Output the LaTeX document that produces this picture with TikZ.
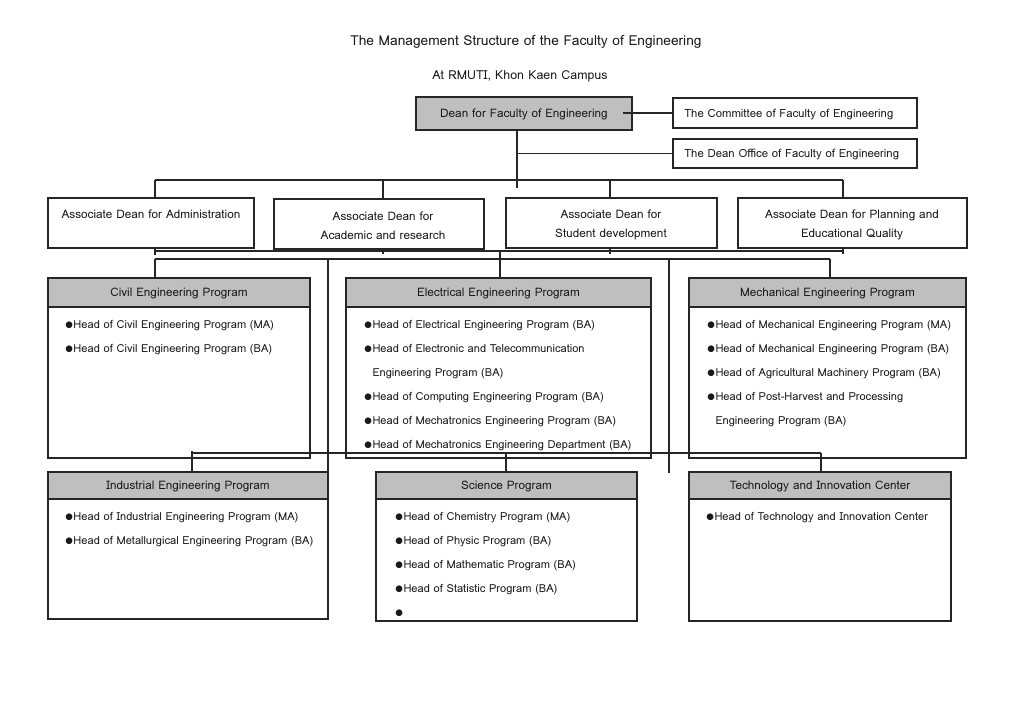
\documentclass[tikz,border=0pt]{standalone}
\usepackage{fontspec}
\setmainfont{Loma}
\newfontfamily\bulfont{DejaVu Sans}
\usetikzlibrary{fit}
\newcommand{\bulmark}{\raisebox{0.25ex}{\bulfont\fontsize{6.5}{6.5}\selectfont ●}\hspace{0.5pt}}
\tikzset{
  ln/.style={line width=0.85pt, draw=black!85},
  box/.style={draw=black!85, line width=0.95pt, inner sep=0pt, rectangle},
  gbox/.style={box, fill=black!25},
  txt/.style={inner sep=0pt, yshift=-1.1pt, font=\fontsize{8.8}{14.25}\selectfont, text=black!90},
  item/.style={inner sep=0pt, yshift=-1.3pt, font=\fontsize{8.3}{18}\selectfont, text=black!90, anchor=west, align=left},
  ttl/.style={inner sep=0pt, yshift=-1.3pt, text=black!90},
}
\begin{document}
\begin{tikzpicture}[x=0.75pt,y=-0.75pt]
\fill[white] (0,0) rectangle (1024,724);
\useasboundingbox (0,0) rectangle (1024,724);

% titles
\node[ttl, font=\fontsize{10.3}{12}\selectfont] (title) at (526,40) {The Management Structure of the Faculty of Engineering};
\node[ttl, font=\fontsize{9.3}{12}\selectfont] (subtitle) at (520,75) {At RMUTI, Khon Kaen Campus};

% top level
\node[gbox, fit={(416,97)(632,130)}] (dean) {};
\node[txt] (deant) at (524,113) {Dean for Faculty of Engineering};
\node[box, fit={(673,98)(917,128)}] (comm) {};
\node[txt, anchor=west, font=\fontsize{8.5}{12}\selectfont] (commt) at (684,113) {The Committee of Faculty of Engineering};
\node[box, fit={(673,139)(917,168)}] (office) {};
\node[txt, anchor=west, font=\fontsize{8.5}{12}\selectfont] (officet) at (684,153.5) {The Dean Office of Faculty of Engineering};

\coordinate (c1) at (623,113);
\coordinate (v0) at (517,188);
\draw[ln] (c1) -- (comm.west |- c1);
\draw[ln] (dean.south -| v0) -- (v0);
\draw[ln] (office.west) -- (office.west -| v0);

% associate deans
\node[box, fit={(48,198)(254,248)}] (ad1) {};
\node[txt] (ad1t) at (151,213) {Associate Dean for Administration};
\node[box, fit={(274,199)(484,249)}] (ad2) {};
\node[txt, align=center] (ad2t) at (383,224) {Associate Dean for\\Academic and research};
\node[box, fit={(506,198)(717,248)}] (ad3) {};
\node[txt, align=center] (ad3t) at (611,223.5) {Associate Dean for\\Student development};
\node[box, fit={(738,198)(967,248)}] (ad4) {};
\node[txt, align=center] (ad4t) at (852,223.5) {Associate Dean for Planning and\\Educational Quality};

\coordinate (b1) at (155,180);
\coordinate (b2) at (383,180);
\coordinate (b3) at (610,180);
\coordinate (b4) at (843,180);
\draw[ln] (b1) -- (b4);
\draw[ln] (b1) -- (b1 |- ad1.north);
\draw[ln] (b2) -- (b2 |- ad2.north);
\draw[ln] (b3) -- (b3 |- ad3.north);
\draw[ln] (b4) -- (b4 |- ad4.north);

% lower buses
\coordinate (l1) at (155,251);
\coordinate (l4) at (843,251);
\coordinate (t1) at (155,255);
\coordinate (t2) at (383,254);
\coordinate (t3) at (610,254);
\coordinate (t4) at (843,254);
\draw[ln] (l1) -- (l4);
\draw[ln] (ad1.south -| t1) -- (t1);
\draw[ln] (ad2.south -| t2) -- (t2);
\draw[ln] (ad3.south -| t3) -- (t3);
\draw[ln] (ad4.south -| t4) -- (t4);

\coordinate (m1) at (155,259);
\coordinate (m2) at (830,259);
\coordinate (e0) at (500,251);
\coordinate (k1) at (328,259);
\coordinate (k2) at (669,259);

% programs row 1
\node[box, fit={(48,278)(310,458)}] (civil) {};
\node[gbox, fit={(48,278)(310,307)}] (civilh) {};
\node[txt] (civilt) at (civilh.center) {Civil Engineering Program};
\node[box, fit={(346,278)(651,458)}] (elec) {};
\node[gbox, fit={(346,278)(651,307)}] (elech) {};
\node[txt] (elect) at (elech.center) {Electrical Engineering Program};
\node[box, fit={(689,278)(966,458)}] (mech) {};
\node[gbox, fit={(689,278)(966,307)}] (mechh) {};
\node[txt] (mecht) at (mechh.center) {Mechanical Engineering Program};

\draw[ln] (m1) -- (m2);
\draw[ln] (m1) -- (m1 |- civil.north);
\draw[ln] (m2) -- (m2 |- mech.north);
\draw[ln] (e0) -- (e0 |- elec.north);

% programs row 2
\node[box, fit={(48,472)(328,619)}] (ind) {};
\node[gbox, fit={(48,472)(328,499)}] (indh) {};
\node[txt] (indt) at (indh.center) {Industrial Engineering Program};
\node[box, fit={(376,472)(637,621)}] (sci) {};
\node[gbox, fit={(376,472)(637,499)}] (scih) {};
\node[txt] (scit) at (scih.center) {Science Program};
\node[box, fit={(689,472)(951,621)}] (tech) {};
\node[gbox, fit={(689,472)(951,499)}] (techh) {};
\node[txt] (techt) at (techh.center) {Technology and Innovation Center};

\draw[ln] (k1) -- (k1 |- ind.north);
\draw[ln] (k2) -- (669,473);

\coordinate (r1) at (192,451);
\coordinate (r2) at (506,453);
\coordinate (r3) at (821,453);
\draw[ln] (192,453) -- (r3);
\draw[ln] (r1) -- (r1 |- ind.north);
\draw[ln] (r2) -- (r2 |- sci.north);
\draw[ln] (r3) -- (r3 |- tech.north);

% items
\node[item] (ci1) at (65,324) {\bulmark Head of Civil Engineering Program (MA)};
\node[item] (ci2) at (65,348) {\bulmark Head of Civil Engineering Program (BA)};

\node[item] (ei1) at (364,324) {\bulmark Head of Electrical Engineering Program (BA)};
\node[item] (ei2) at (364,360) {\bulmark Head of Electronic and Telecommunication\\\phantom{\bulmark}Engineering Program (BA)};
\node[item] (ei3) at (364,396) {\bulmark Head of Computing Engineering Program (BA)};
\node[item] (ei4) at (364,420) {\bulmark Head of Mechatronics Engineering Program (BA)};
\node[item] (ei5) at (364,444) {\bulmark Head of Mechatronics Engineering Department (BA)};

\node[item] (mi1) at (707,324) {\bulmark Head of Mechanical Engineering Program (MA)};
\node[item] (mi2) at (707,348) {\bulmark Head of Mechanical Engineering Program (BA)};
\node[item] (mi3) at (707,372) {\bulmark Head of Agricultural Machinery Program (BA)};
\node[item] (mi4) at (707,408) {\bulmark Head of Post-Harvest and Processing\\\phantom{\bulmark}Engineering Program (BA)};

\node[item] (ii1) at (65,516) {\bulmark Head of Industrial Engineering Program (MA)};
\node[item] (ii2) at (65,540) {\bulmark Head of Metallurgical Engineering Program (BA)};

\node[item] (si1) at (395,516) {\bulmark Head of Chemistry Program (MA)};
\node[item] (si2) at (395,540) {\bulmark Head of Physic Program (BA)};
\node[item] (si3) at (395,564) {\bulmark Head of Mathematic Program (BA)};
\node[item] (si4) at (395,588) {\bulmark Head of Statistic Program (BA)};
\node[item] (si5) at (395,612) {\bulmark};

\node[item] (ti1) at (706,516) {\bulmark Head of Technology and Innovation Center};
\end{tikzpicture}
\end{document}
